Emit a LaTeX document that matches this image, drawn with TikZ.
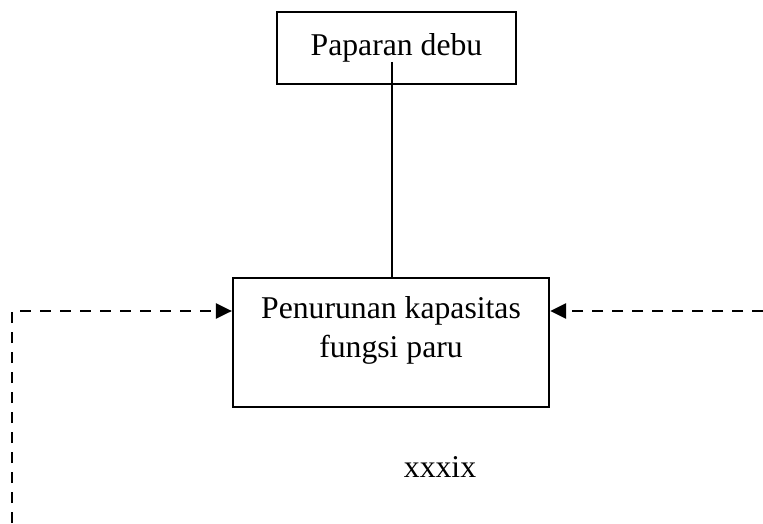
\documentclass[tikz,border=0pt]{standalone}
\usepackage{fontspec}
\setmainfont{Liberation Serif}
\usetikzlibrary{arrows.meta}
\begin{document}
\begin{tikzpicture}[x=0.5pt,y=-0.5pt,
  box/.style={draw,line width=1.1pt,inner sep=0pt},
  txt/.style={font=\fontsize{15.85}{19.5}\selectfont,align=center,inner sep=0pt},
  dline/.style={line width=1.3pt,dash pattern=on 5.5pt off 4.5pt},
  tip/.style={-{Triangle[length=8pt,width=7.5pt]}}]
\useasboundingbox (0,0) rectangle (763,523);
\node[box,minimum width=119.5pt,minimum height=36pt,txt] (top) at (396.5,48) {Paparan debu};
\node[box,minimum width=158pt,minimum height=64.5pt] (low) at (391,342.5) {};
\node[txt,anchor=base] (lowtxt) at (391,357) {Penurunan kapasitas\\fungsi paru};
\node[txt,anchor=base] (page) at (440,477) {xxxix};
\coordinate (lstart) at (392,62);
\draw[line width=0.8pt] (lstart) -- (lstart |- low.north);
\coordinate (lb) at (12,523);
\coordinate (lc) at (12,311);
\coordinate (re) at (763,311);
\draw[dline,tip] (lb) -- (lc) -- (lc -| low.west);
\draw[dline,tip] (re) -- (re -| low.east);
\end{tikzpicture}
\end{document}
